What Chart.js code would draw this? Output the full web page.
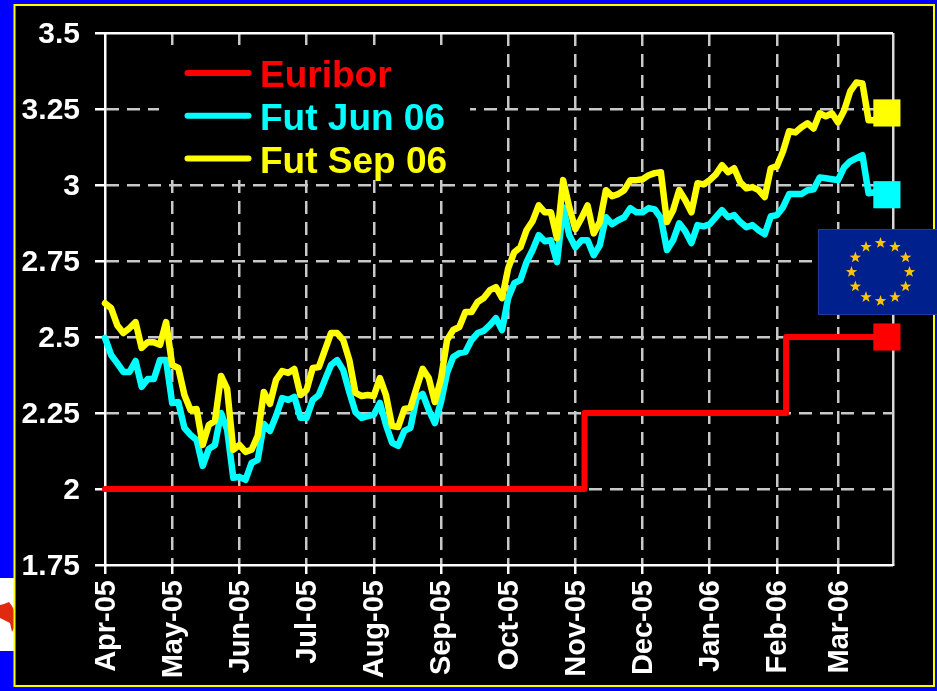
<!DOCTYPE html>
<html><head><meta charset="utf-8">
<style>html,body{margin:0;padding:0;background:#0000ff}canvas{display:block}</style>
<script src="https://cdn.jsdelivr.net/npm/chart.js@4"></script>
</head><body>
<div style="width:937px;height:691px"><canvas id="c" width="937" height="691"></canvas></div>
<script>
const monthLabels = ['Apr-05','May-05','Jun-05','Jul-05','Aug-05','Sep-05','Oct-05','Nov-05','Dec-05','Jan-06','Feb-06','Mar-06',''];
const monthIndex = [0,11,22,33,44,55,66,77,88,99,110,120,129];
const yTicks = [3.5,3.25,3,2.75,2.5,2.25,2,1.75];
const euribor = [
2,2,2,2,2,2,2,2,2,2,
2,2,2,2,2,2,2,2,2,2,
2,2,2,2,2,2,2,2,2,2,
2,2,2,2,2,2,2,2,2,2,
2,2,2,2,2,2,2,2,2,2,
2,2,2,2,2,2,2,2,2,2,
2,2,2,2,2,2,2,2,2,2,
2,2,2,2,2,2,2,2,2,2.25,
2.25,2.25,2.25,2.25,2.25,2.25,2.25,2.25,2.25,2.25,
2.25,2.25,2.25,2.25,2.25,2.25,2.25,2.25,2.25,2.25,
2.25,2.25,2.25,2.25,2.25,2.25,2.25,2.25,2.25,2.25,
2.25,2.25,2.5,2.5,2.5,2.5,2.5,2.5,2.5,2.5,
2.5,2.5,2.5,2.5,2.5,2.5,2.5,2.5,2.5];
const futJun06 = [
2.497,2.441,2.414,2.385,2.385,2.421,2.336,2.362,2.362,2.424,
2.424,2.283,2.286,2.201,2.178,2.161,2.076,2.132,2.145,2.250,
2.194,2.037,2.040,2.030,2.086,2.096,2.214,2.191,2.240,2.299,
2.293,2.303,2.234,2.234,2.293,2.309,2.359,2.408,2.424,2.391,
2.319,2.253,2.234,2.240,2.244,2.283,2.211,2.152,2.142,2.191,
2.201,2.299,2.313,2.260,2.217,2.286,2.382,2.434,2.447,2.451,
2.490,2.513,2.520,2.539,2.562,2.523,2.628,2.677,2.687,2.746,
2.786,2.835,2.815,2.818,2.746,2.927,2.835,2.795,2.818,2.818,
2.769,2.802,2.894,2.871,2.884,2.894,2.924,2.910,2.910,2.924,
2.920,2.891,2.786,2.818,2.874,2.848,2.809,2.868,2.864,2.871,
2.894,2.917,2.894,2.901,2.878,2.861,2.868,2.851,2.838,2.897,
2.901,2.927,2.970,2.970,2.970,2.983,2.986,3.025,3.022,3.019,
3.016,3.058,3.078,3.088,3.098,2.973,2.976,2.983,2.968];
const futSep06 = [
2.611,2.595,2.539,2.513,2.529,2.549,2.464,2.483,2.483,2.474,
2.549,2.408,2.398,2.309,2.260,2.263,2.145,2.211,2.224,2.372,
2.329,2.129,2.145,2.122,2.129,2.175,2.319,2.280,2.359,2.388,
2.382,2.395,2.309,2.326,2.398,2.401,2.457,2.513,2.513,2.490,
2.424,2.316,2.306,2.309,2.306,2.365,2.309,2.207,2.204,2.263,
2.267,2.332,2.395,2.365,2.286,2.362,2.490,2.523,2.533,2.582,
2.582,2.615,2.628,2.654,2.664,2.628,2.726,2.779,2.795,2.851,
2.881,2.933,2.910,2.910,2.825,3.016,2.927,2.855,2.891,2.933,
2.841,2.878,2.983,2.963,2.970,2.983,3.016,3.016,3.019,3.032,
3.039,3.042,2.878,2.917,2.983,2.950,2.910,3.006,3.002,3.016,
3.035,3.065,3.042,3.055,3.009,2.989,2.993,2.983,2.960,3.055,
3.062,3.111,3.177,3.173,3.190,3.203,3.186,3.236,3.226,3.236,
3.206,3.245,3.308,3.337,3.334,3.213,3.213,3.239,3.237];

const labels = Array(130).fill('');
monthIndex.forEach((i, k) => { labels[i] = monthLabels[k]; });
const FONT = '"Liberation Sans", Arial, sans-serif';
const endMarker = ctx => ctx.dataIndex === 128 ? 19.2 : 0;

const backdrop = {
  id: 'backdrop',
  beforeDraw(chart) {
    const c = chart.ctx;
    c.save();
    c.fillStyle = '#0000ff'; c.fillRect(0, 0, 937, 691);
    // Canadian flag fragment at the left edge
    c.fillStyle = '#ffffff'; c.fillRect(0, 578, 14, 73);
    c.fillStyle = '#e02a10';
    c.beginPath();
    c.moveTo(0, 605); c.lineTo(4, 604); c.lineTo(9, 602); c.lineTo(12, 606);
    c.lineTo(14, 610); c.lineTo(14, 628); c.lineTo(12, 632); c.lineTo(10, 623);
    c.lineTo(4, 620); c.lineTo(0, 618);
    c.closePath(); c.fill();
    c.fillStyle = '#000000'; c.fillRect(14, 5, 920, 681);
    c.strokeStyle = '#ffff00'; c.lineWidth = 2;
    c.strokeRect(14.5, 5, 919.5, 681);
    c.restore();
  }
};

const legendPanel = {
  id: 'legendPanel',
  beforeDatasetsDraw(chart) {
    const c = chart.ctx;
    c.save();
    c.fillStyle = '#000000'; c.fillRect(159, 45, 311, 133);
    c.textBaseline = 'alphabetic'; c.textAlign = 'left';
    c.font = 'bold 37px ' + FONT;
    chart.data.datasets.forEach((d, i) => {
      const y = 73 + i * 42.8;
      c.strokeStyle = d.borderColor; c.lineWidth = 6; c.lineCap = 'round';
      c.beginPath(); c.moveTo(187.5, y); c.lineTo(248.5, y); c.stroke();
      c.fillStyle = d.borderColor;
      c.fillText(d.label, 260, y + 14);
    });
    c.restore();
  }
};

const euFlag = {
  id: 'euFlag',
  afterDatasetsDraw(chart) {
    const c = chart.ctx;
    c.save();
    c.fillStyle = '#00208e'; c.fillRect(818, 229, 119, 86);
    c.strokeStyle = '#1f3a9a'; c.lineWidth = 1; c.strokeRect(818.5, 229.5, 119, 85);
    c.fillStyle = '#fcc30a';
    for (let k = 0; k < 12; k++) {
      const a = k * Math.PI / 6;
      const cx = 880.5 + 29 * Math.sin(a), cy = 272 - 29 * Math.cos(a);
      c.beginPath();
      for (let j = 0; j < 10; j++) {
        const r = j % 2 ? 2.4 : 6, t = j * Math.PI / 5;
        c.lineTo(cx + r * Math.sin(t), cy - r * Math.cos(t));
      }
      c.closePath(); c.fill();
    }
    c.restore();
  }
};

const mkSet = (label, data, color, order, extra) => Object.assign({
  label, data, borderColor: color, backgroundColor: color,
  borderWidth: 6.5, tension: 0, order, clip: false,
  borderCapStyle: 'round', borderJoinStyle: 'round',
  pointStyle: 'rect', pointRadius: endMarker, pointHoverRadius: endMarker,
  pointBorderWidth: 0, pointBackgroundColor: color
}, extra || {});

new Chart(document.getElementById('c'), {
  type: 'line',
  data: {
    labels,
    datasets: [
      mkSet('Euribor', euribor, '#ff0000', 3, { stepped: 'middle', borderWidth: 6 }),
      mkSet('Fut Jun 06', futJun06, '#00ffff', 2),
      mkSet('Fut Sep 06', futSep06, '#ffff00', 1)
    ]
  },
  plugins: [backdrop, legendPanel, euFlag],
  options: {
    responsive: false,
    animation: false,
    layout: { padding: { left: 0, top: 32, right: 44, bottom: 0 } },
    plugins: { legend: { display: false }, tooltip: { enabled: false }, title: { display: false } },
    scales: {
      x: {
        type: 'category',
        afterBuildTicks(s) { s.ticks = monthIndex.map(v => ({ value: v })); },
        afterFit(s) { s.height = 126; },
        grid: {
          color: c => c.index === monthIndex.length - 1 ? '#d8d8d8' : (c.index === 0 ? '#ffffff' : '#c8c8c8'),
          lineWidth: 2.5,
          tickColor: c => c.index === monthIndex.length - 1 ? 'rgba(0,0,0,0)' : '#ffffff',
          tickLength: 9, drawTicks: true
        },
        border: {
          color: '#ffffff', width: 2,
          dash: c => (c.index === 0 || c.index === monthIndex.length - 1) ? [] : [13, 8]
        },
        ticks: {
          autoSkip: false, minRotation: 90, maxRotation: 90, color: '#ffffff', padding: 6, labelOffset: 1.5,
          font: { family: FONT, weight: 'bold', size: 29 },
          callback(v) { return labels[v]; }
        }
      },
      y: {
        min: 1.75, max: 3.5,
        afterBuildTicks(s) { s.ticks = yTicks.map(v => ({ value: v })); },
        afterFit(s) { s.width = 105; },
        grid: {
          color: c => (c.tick && (c.tick.value === 3.5 || c.tick.value === 1.75)) ? '#ffffff' : '#c8c8c8',
          lineWidth: 2.5, tickColor: '#ffffff', tickLength: 10
        },
        border: {
          color: '#ffffff', width: 2,
          dash: c => (c.tick && (c.tick.value === 3.5 || c.tick.value === 1.75)) ? [] : [13, 8]
        },
        ticks: {
          color: '#ffffff', padding: 15, labelOffset: 2,
          font: { family: FONT, weight: 'bold', size: 30 },
          callback(v) { return String(v); }
        }
      }
    }
  }
});
</script>
</body></html>
